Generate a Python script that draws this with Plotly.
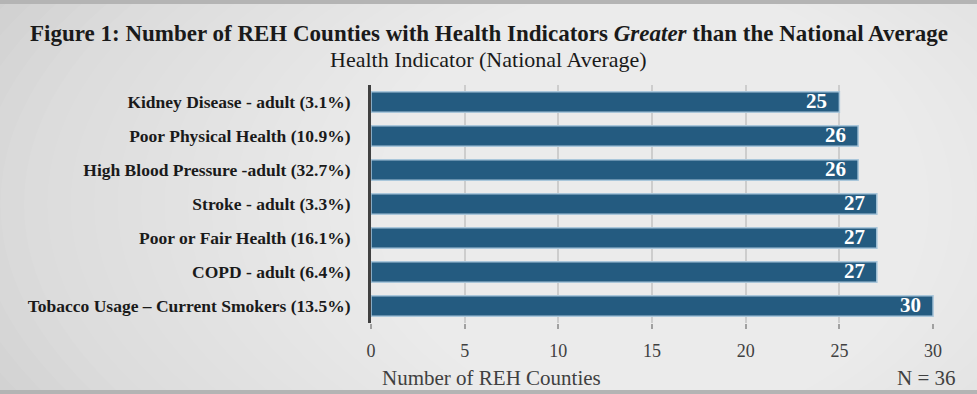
import plotly.graph_objects as go

categories = [
    "Kidney Disease - adult (3.1%)",
    "Poor Physical Health (10.9%)",
    "High Blood Pressure -adult (32.7%)",
    "Stroke - adult (3.3%)",
    "Poor or Fair Health (16.1%)",
    "COPD - adult (6.4%)",
    "Tobacco Usage \u2013 Current Smokers (13.5%)",
]
counts = [25, 26, 26, 27, 27, 27, 30]
x_ticks = [0, 5, 10, 15, 20, 25, 30]

SERIF = "Liberation Serif, DejaVu Serif, serif"

fig = go.Figure()
fig.add_trace(go.Bar(
    y=categories,
    x=counts,
    orientation="h",
    marker=dict(color="#245b80", line=dict(color="#a9c6da", width=1.5)),
    width=0.6,
    hoverinfo="skip",
))

annotations = []
for c, v in zip(categories, counts):
    annotations.append(dict(
        x=v, y=c, xref="x", yref="y", text=f"<b>{v}</b>", showarrow=False,
        xanchor="right", yanchor="middle", xshift=-10, yshift=1,
        font=dict(family=SERIF, size=21, color="white"),
    ))

# vignette background: concentric ellipses of white
shapes = []
n = 24
for i in range(n):
    f = i / n
    shapes.append(dict(
        type="circle", xref="paper", yref="paper",
        x0=-0.95 + 1.0 * f, x1=1.95 - 1.0 * f,
        y0=-1.3 + 0.9 * f, y1=2.3 - 0.9 * f,
        fillcolor="rgba(255,255,255,0.055)", line=dict(width=0),
        layer="below",
    ))
# thin darker frame strips at top and bottom
shapes.append(dict(type="rect", xref="paper", yref="paper",
                   x0=-371 / 563, x1=(977 - 371) / 563,
                   y0=(323 - 4) / 238, y1=(323 + 2) / 238,
                   fillcolor="#b4b4b4", line=dict(width=0), layer="below"))
shapes.append(dict(type="rect", xref="paper", yref="paper",
                   x0=-371 / 563, x1=(977 - 371) / 563,
                   y0=-(394 - 323 + 2) / 238, y1=-(390 - 323) / 238,
                   fillcolor="#b4b4b4", line=dict(width=0), layer="below"))

# title lines
annotations += [
    dict(text="<b>Figure 1: Number of REH Counties with Health Indicators <i>Greater</i> than the National Average</b>",
         xref="paper", yref="paper", x=(489 - 371) / 563, y=(323 - 33) / 238,
         xanchor="center", yanchor="middle", showarrow=False,
         font=dict(family=SERIF, size=23, color="#1a1a1a")),
    dict(text="Health Indicator (National Average)",
         xref="paper", yref="paper", x=(488 - 371) / 563, y=(323 - 60) / 238,
         xanchor="center", yanchor="middle", showarrow=False,
         font=dict(family=SERIF, size=22, color="#1a1a1a")),
    dict(text="Number of REH Counties", xref="paper", yref="paper",
         x=(380 - 371) / 563, y=-(378 - 323) / 238, xanchor="left", yanchor="middle",
         showarrow=False, font=dict(family=SERIF, size=21, color="#404040")),
    dict(text="N = 36", xref="paper", yref="paper",
         x=(958 - 371) / 563, y=-(378 - 323) / 238, xanchor="right", yanchor="middle",
         showarrow=False, font=dict(family=SERIF, size=21, color="#404040")),
]

fig.update_layout(
    width=977, height=394,
    margin=dict(l=371, r=43, t=85, b=71),
    paper_bgcolor="#c9c9c9",
    plot_bgcolor="rgba(0,0,0,0)",
    showlegend=False,
    bargap=0.4,
    shapes=shapes,
    annotations=annotations,
    xaxis=dict(
        range=[0, 30.05],
        tickvals=x_ticks,
        ticktext=[str(t) for t in x_ticks],
        showgrid=True, gridcolor="#cdcdcd", gridwidth=2,
        zeroline=False,
        showline=False,
        ticks="outside", ticklen=5, tickcolor="#a0a0a0", tickwidth=1.5,
        ticklabelstandoff=6,
        tickfont=dict(family=SERIF, size=18, color="#404040"),
        fixedrange=True,
        automargin=False,
    ),
    yaxis=dict(
        categoryorder="array",
        categoryarray=categories,
        autorange="reversed",
        showgrid=False,
        showline=True, linecolor="#404040", linewidth=3,
        ticks="", ticklabelstandoff=14,
        tickfont=dict(family=SERIF, size=17.5, color="#1a1a1a", weight="bold"),
        fixedrange=True,
        automargin=False,
    ),
)

fig.write_html("out.html", config={"displayModeBar": False},
               post_script="document.body.style.margin='0px';document.body.style.overflow='hidden';")
